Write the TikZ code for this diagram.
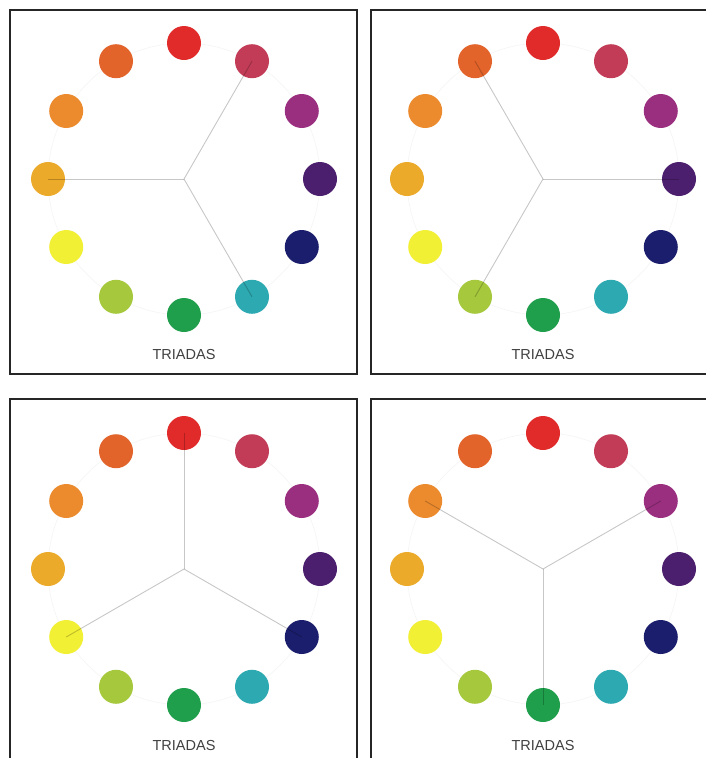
\documentclass[tikz,border=0pt]{standalone}
\usepackage{fontspec}
\setmainfont{Liberation Sans}
\definecolor{cR}{HTML}{E12B2B}
\definecolor{cRV}{HTML}{C23C57}
\definecolor{cV}{HTML}{9A2F80}
\definecolor{cP}{HTML}{4C1F6E}
\definecolor{cN}{HTML}{1B1E6C}
\definecolor{cT}{HTML}{2DA9B1}
\definecolor{cG}{HTML}{1F9E4B}
\definecolor{cYG}{HTML}{A6C83C}
\definecolor{cY}{HTML}{F2F034}
\definecolor{cYO}{HTML}{EBAA2A}
\definecolor{cO}{HTML}{EC8B2E}
\definecolor{cRO}{HTML}{E2642B}
\newcommand{\triadpanel}[6]{%
  \begin{scope}[shift={(#2,#3)},y=1pt]
    \coordinate (#1o) at (0,0);
    \draw[ring] (0,0) circle (136);
    \foreach \k/\c in {0/cR,1/cRV,2/cV,3/cP,4/cN,5/cT,6/cG,7/cYG,8/cY,9/cYO,10/cO,11/cRO}{%
      \node[dot,fill=\c] (#1c\k) at ({90-30*\k}:136) {};
    }
    \draw[spoke] (#1o) -- (#1c#4.center);
    \draw[spoke] (#1o) -- (#1c#5.center);
    \draw[spoke] (#1o) -- (#1c#6.center);
    \node[lbl] (#1t) at (0,-176) {TRIADAS};
  \end{scope}}
\begin{document}
\begin{tikzpicture}[x=1pt,y=-1pt,
  dot/.style={circle,inner sep=0pt,minimum size=34pt,draw=none},
  spoke/.style={draw=black,opacity=0.22,line width=0.9pt},
  frame/.style={draw=black!85,line width=1.3pt},
  ring/.style={draw=black!4,line width=0.6pt},
  lbl/.style={font=\fontsize{14.5}{16}\selectfont,text=black!75}]
\useasboundingbox (0,0) rectangle (706,758);
\clip (0,0) rectangle (706,758);
\fill[white] (0,0) rectangle (706,758);
\draw[frame] (10,10) rectangle (357,374);
\draw[frame] (371,10) rectangle (716,374);
\draw[frame] (10,399) rectangle (357,770);
\draw[frame] (371,399) rectangle (716,770);
\triadpanel{a}{184}{179}{1}{9}{5}
\triadpanel{b}{543}{179}{11}{3}{7}
\triadpanel{c}{184}{569}{0}{4}{8}
\triadpanel{d}{543}{569}{10}{2}{6}
\end{tikzpicture}
\end{document}
